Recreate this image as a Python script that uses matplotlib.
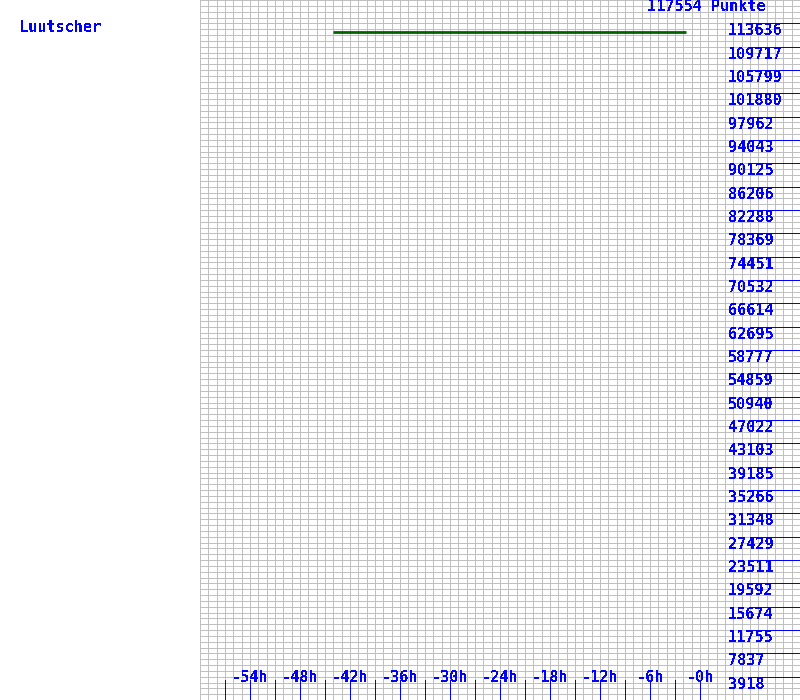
import matplotlib
matplotlib.use("Agg")
import matplotlib.pyplot as plt

# values
player = "Luutscher"
max_points = 117554
y_labels = [3918, 7837, 11755, 15674, 19592, 23511, 27429, 31348, 35266,
            39185, 43103, 47022, 50940, 54859, 58777, 62695, 66614, 70532,
            74451, 78369, 82288, 86206, 90125, 94043, 97962, 101880, 105799,
            109717, 113636]
x_tick_hours = list(range(-57, 1, 3))
x_label_hours = [-54, -48, -42, -36, -30, -24, -18, -12, -6, 0]
x_labels = ["-54h", "-48h", "-42h", "-36h", "-30h", "-24h", "-18h", "-12h", "-6h", "-0h"]
hours = [-44.0, -1.7]
points = [112100, 112100]

blue = "#0000ff"
px_h = 800 / 96          # pixels per hour
px_v = 700 / max_points  # pixels per point
thin = 0.72              # one pixel at 100 dpi

plt.rcParams["text.antialiased"] = False
fig = plt.figure(figsize=(8, 7), dpi=100)
ax = fig.add_axes([0, 0, 1, 1])
ax.set_xlim(-84, 12)
ax.set_ylim(0, max_points)
ax.axis("off")

# grid: one column per hour, four rows per label step
for h in range(-60, 13):
    ax.vlines(h, 0, max_points, color="#c0c0c0", lw=thin, antialiased=False, zorder=1)
for k in range(121):
    ax.hlines(k * max_points / 120, -60, 12, color="#c0c0c0", lw=thin,
              antialiased=False, zorder=1)

font = dict(family="DejaVu Sans Mono", size=11, color=blue, weight="bold")

# hour ticks and labels at the bottom
ax.vlines(x_tick_hours, 0, 20 / px_v, colors=blue, lw=thin, antialiased=False, zorder=3)
for h, lab in zip(x_label_hours, x_labels):
    ax.annotate(lab, (h, 23 / px_v), ha="center", va="center", zorder=4, **font)

# point ticks and labels on the right
for v in y_labels:
    ax.hlines(v, 50 / px_h, 12, colors=blue, lw=thin, antialiased=False, zorder=3)
    ax.annotate(str(v), (28 / px_h, v), xytext=(0, -5.5), textcoords="offset points",
                ha="left", va="center", zorder=4, **font)

ax.annotate(f"{max_points} Punkte", (66 / px_h, max_points), xytext=(0, -5),
            textcoords="offset points", ha="right", va="center", **font)
ax.annotate(player, (-84 + 19 / px_h, max_points - 28 / px_v), ha="left",
            va="center", **font)

ax.plot(hours, points, color="#006400", lw=2.0, solid_capstyle="butt", zorder=5)

fig.savefig("out.png", dpi=100)
